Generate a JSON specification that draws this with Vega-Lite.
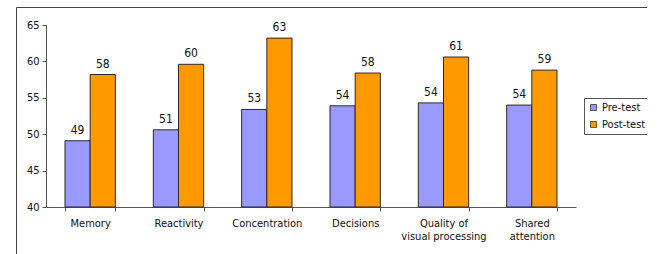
{
  "$schema": "https://vega.github.io/schema/vega-lite/v6.json",
  "autosize": "none",
  "padding": {"left": 16, "top": 7, "right": 0, "bottom": 0},
  "width": 631,
  "height": 262,
  "background": "white",
  "config": {
    "font": "DejaVu Sans Condensed",
    "view": {"stroke": "#444", "strokeWidth": 1},
    "axis": {
      "grid": false,
      "domainColor": "#555",
      "tickColor": "#555",
      "labelColor": "#111",
      "labelFont": "DejaVu Sans Condensed",
      "labelFontSize": 11,
      "tickSize": 4,
      "title": null
    }
  },
  "data": {
    "values": [
      {"skill": "Memory", "test": "Pre-test", "score": 49.1},
      {"skill": "Memory", "test": "Post-test", "score": 58.2},
      {"skill": "Reactivity", "test": "Pre-test", "score": 50.6},
      {"skill": "Reactivity", "test": "Post-test", "score": 59.6},
      {"skill": "Concentration", "test": "Pre-test", "score": 53.4},
      {"skill": "Concentration", "test": "Post-test", "score": 63.2},
      {"skill": "Decisions", "test": "Pre-test", "score": 53.9},
      {"skill": "Decisions", "test": "Post-test", "score": 58.4},
      {"skill": "Quality of visual processing", "test": "Pre-test", "score": 54.3},
      {"skill": "Quality of visual processing", "test": "Post-test", "score": 60.6},
      {"skill": "Shared attention", "test": "Pre-test", "score": 54.0},
      {"skill": "Shared attention", "test": "Post-test", "score": 58.8}
    ]
  },
  "encoding": {
    "x": {
      "field": "skill",
      "type": "nominal",
      "sort": null,
      "scale": {"range": [30, 560], "paddingInner": 0.43, "paddingOuter": 0.215},
      "axis": {
        "orient": "bottom",
        "offset": -62,
        "labelAngle": 0,
        "tickBand": "extent",
        "labelPadding": 6,
        "labelLineHeight": 13,
        "labelBaseline": "top",
        "labelExpr": "datum.value == 'Quality of visual processing' ? ['Quality of', 'visual processing'] : datum.value == 'Shared attention' ? ['Shared', 'attention'] : datum.value"
      }
    },
    "xOffset": {"field": "test", "type": "nominal", "sort": ["Pre-test", "Post-test"]},
    "y": {
      "field": "score",
      "type": "quantitative",
      "scale": {"domain": [40, 65], "range": [200, 18], "zero": false, "nice": false},
      "axis": {"orient": "left", "offset": -30, "values": [40, 45, 50, 55, 60, 65], "labelPadding": 3}
    }
  },
  "layer": [
    {
      "mark": {"type": "bar", "stroke": "#2a2a2a", "strokeWidth": 1},
      "encoding": {
        "y2": {"datum": 40},
        "color": {
          "field": "test",
          "type": "nominal",
          "scale": {"domain": ["Pre-test", "Post-test"], "range": ["#9999FF", "#FF9900"]},
          "legend": {
            "title": null,
            "orient": "none",
            "legendX": 568,
            "legendY": 91,
            "symbolType": "square",
            "symbolSize": 36,
            "symbolStrokeColor": "#333",
            "symbolStrokeWidth": 0.8,
            "labelFont": "DejaVu Sans Condensed",
            "labelFontSize": 11,
            "labelColor": "#111",
            "labelOffset": 3,
            "rowPadding": 5,
            "strokeColor": "#555",
            "padding": 4,
            "fillColor": "white"
          }
        }
      }
    },
    {
      "mark": {"type": "text", "baseline": "bottom", "dy": -4, "fontSize": 12, "color": "#111"},
      "encoding": {
        "text": {"field": "score", "type": "quantitative", "format": ".0f"}
      }
    }
  ]
}
